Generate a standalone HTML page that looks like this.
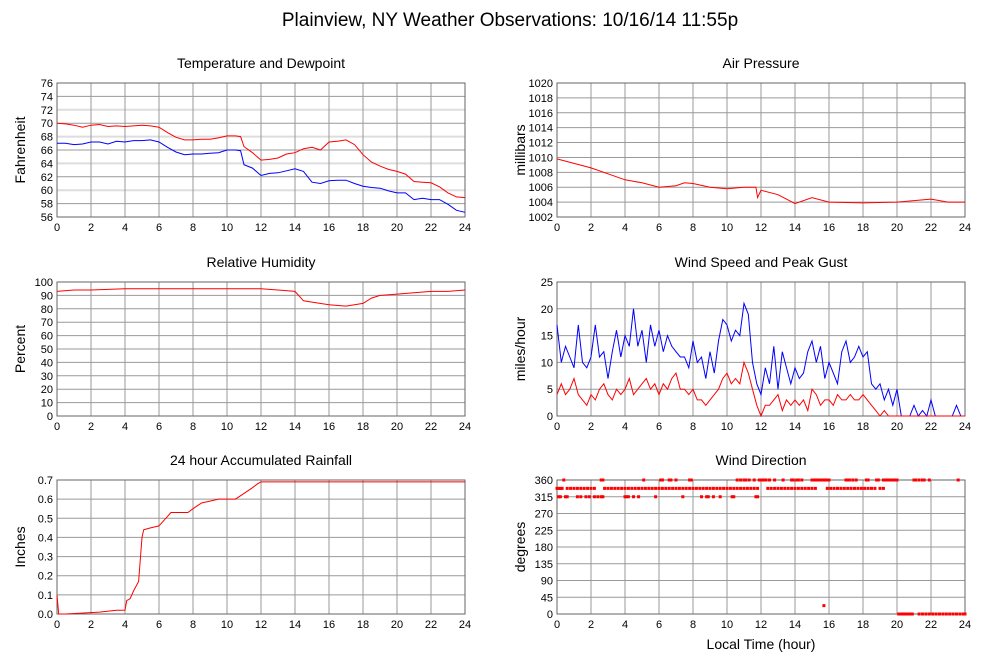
<!DOCTYPE html>
<html><head><meta charset="utf-8"><style>
body{margin:0;background:#fff;}
svg{display:block;font-family:"Liberation Sans",sans-serif;}
</style></head><body>
<svg id="chart" width="999" height="659" viewBox="0 0 999 659" xmlns="http://www.w3.org/2000/svg">
<text x="510" y="26" font-size="19" text-anchor="middle">Plainview, NY Weather Observations: 10/16/14 11:55p</text>
<text x="761" y="649" font-size="14" text-anchor="middle">Local Time (hour)</text>
</svg>
<script>
// ---- data ----
const tempHours=[0,0.5,1,1.5,2,2.5,3,3.5,4,4.5,5,5.5,6,6.5,7,7.5,8,8.5,9,9.5,10,10.5,10.8,11,11.5,12,12.5,13,13.5,14,14.5,15,15.5,16,16.5,17,17.5,18,18.5,19,19.5,20,20.5,21,21.5,22,22.5,23,23.5,24];
const tempValues=[70,69.9,69.7,69.4,69.7,69.8,69.5,69.6,69.5,69.6,69.7,69.6,69.4,68.6,67.9,67.5,67.5,67.6,67.6,67.8,68.1,68.1,68.0,66.5,65.6,64.5,64.6,64.8,65.4,65.6,66.2,66.4,66.0,67.2,67.3,67.5,66.8,65.3,64.2,63.6,63.1,62.8,62.4,61.3,61.2,61.1,60.5,59.6,59.0,58.9];
const dewValues=[67,67,66.8,66.9,67.2,67.2,66.9,67.3,67.2,67.4,67.4,67.5,67.2,66.4,65.7,65.3,65.4,65.4,65.5,65.6,66,66,65.9,63.8,63.3,62.2,62.5,62.6,62.9,63.2,62.8,61.2,61.0,61.4,61.5,61.5,61.0,60.6,60.4,60.3,59.9,59.6,59.6,58.6,58.8,58.6,58.6,57.9,57.0,56.7];
const presHours=[0,1,2,3,4,5,6,7,7.5,8,9,10,11,11.7,11.8,12,13,14,15,16,18,20,22,23,24];
const presValues=[1009.8,1009.2,1008.6,1007.8,1007.0,1006.6,1006.0,1006.2,1006.6,1006.5,1006.0,1005.8,1006.0,1006.0,1004.6,1005.6,1005.0,1003.8,1004.6,1004.0,1003.9,1004.0,1004.4,1004.0,1004.0];
const rhHours=[0,1,2,4,6,8,10,12,13,14,14.5,15,16,17,18,18.5,19,20,21,22,23,24];
const rhValues=[93,94,94,95,95,95,95,95,94,93,86,85,83,82,84,88,90,91,92,93,93,94];
const windHours=[0,0.25,0.5,0.75,1,1.25,1.5,1.75,2,2.25,2.5,2.75,3,3.25,3.5,3.75,4,4.25,4.5,4.75,5,5.25,5.5,5.75,6,6.25,6.5,6.75,7,7.25,7.5,7.75,8,8.25,8.5,8.75,9,9.25,9.5,9.75,10,10.25,10.5,10.75,11,11.25,11.5,11.75,12,12.25,12.5,12.75,13,13.25,13.5,13.75,14,14.25,14.5,14.75,15,15.25,15.5,15.75,16,16.25,16.5,16.75,17,17.25,17.5,17.75,18,18.25,18.5,18.75,19,19.25,19.5,19.75,20,20.25,20.5,20.75,21,21.25,21.5,21.75,22,22.25,22.5,22.75,23,23.25,23.5,23.75,24];
const gustValues=[17,10,13,11,9,17,10,9,11,17,11,12,7,12,16,11,15,13,20,13,16,10,17,13,16,12,15,13,12,11,11,9,14,10,11,7,12,8,14,18,17,14,16,15,21,19,10,6,4,9,6,13,5,12,9,6,9,7,8,12,14,10,13,7,10,8,6,12,14,10,11,13,11,12,6,5,6,3,5,2,5,0,0,0,2,0,1,0,3,0,0,0,0,0,2,0,0];
const speedValues=[4,6,4,5,7,4,3,2,4,3,5,6,4,3,5,4,5,7,4,5,6,7,5,6,4,6,5,7,8,5,5,4,5,3,3,2,3,4,5,7,8,6,7,6,10,8,5,2,0,2,2,3,4,1,3,2,3,2,3,1,5,4,2,3,3,2,4,3,3,4,3,3,4,3,2,1,0,1,0,0,0,0,0,0,0,0,0,0,0,0,0,0,0,0,0,0,0];
const rainHours=[0,0.1,0.5,2.5,3.5,4,4.1,4.3,4.5,4.8,5,5.1,5.5,6,6.5,6.7,7.7,8,8.5,9,9.5,10.5,11,11.5,11.8,12,24];
const rainValues=[0.1,0,0,0.01,0.02,0.02,0.07,0.08,0.12,0.17,0.4,0.44,0.45,0.46,0.51,0.53,0.53,0.55,0.58,0.59,0.6,0.6,0.63,0.66,0.68,0.69,0.69];
const dir360Times=[0.4,2.6,2.7,5.1,6.1,6.2,6.6,6.7,7.0,7.8,7.9,10.6,10.8,11.0,11.1,11.3,11.6,11.9,12.0,12.1,12.2,12.3,12.5,12.8,13.3,13.8,13.9,14.1,14.2,14.4,15.0,15.1,15.2,15.3,15.4,15.5,15.6,15.7,15.8,15.9,16.0,17.0,17.1,17.2,17.4,17.6,18.2,18.3,18.8,18.9,19.2,19.3,19.4,19.5,19.6,19.7,19.8,19.9,20.0,21.0,21.1,21.3,21.5,21.6,21.9,23.6];
const dir338Times=[0,0.1,0.2,0.3,0.6,0.8,1.0,1.2,1.4,1.6,1.8,2.0,2.2,2.8,3.0,3.2,3.4,3.6,3.8,4.0,4.2,4.4,4.6,4.8,5.0,5.2,5.4,5.6,5.8,6.0,6.2,6.4,6.6,6.8,7.0,7.2,7.4,7.6,7.8,8.0,8.2,8.4,8.6,8.8,9.0,9.2,9.4,9.6,9.8,10.0,10.2,10.4,10.6,10.8,11.0,11.2,11.4,11.6,11.8,12.4,12.6,12.8,13.0,13.2,13.4,13.6,13.8,14.0,14.2,14.4,14.6,14.8,15.0,15.2,15.9,16.1,16.3,16.5,16.7,16.9,17.1,17.3,17.5,17.7,17.9,18.1,18.3,18.5,18.7,19.0,19.2];
const dir315Times=[0.1,0.2,0.5,0.6,1.2,1.4,1.7,1.9,2.2,2.4,2.6,2.7,4.0,4.1,4.2,4.5,4.8,5.8,7.4,8.5,8.8,8.9,9.2,9.6,10.3,10.4,11.7,11.8];
const dir0Times=[20.1,20.2,20.3,20.4,20.5,20.6,20.7,20.8,20.9,21.3,21.5,21.7,21.9,22.1,22.3,22.5,22.7,22.9,23.1,23.3,23.5,23.7,23.9,24.0];
const dir22Times=[15.7];
const xTicks=[0,2,4,6,8,10,12,14,16,18,20,22,24];
const tempTicks=[56,58,60,62,64,66,68,70,72,74,76];
const presTicks=[1002,1004,1006,1008,1010,1012,1014,1016,1018,1020];
const rhTicks=[0,10,20,30,40,50,60,70,80,90,100];
const windTicks=[0,5,10,15,20,25];
const rainTicks=[0,0.1,0.2,0.3,0.4,0.5,0.6,0.7];
const rainTickLabels=["0.0","0.1","0.2","0.3","0.4","0.5","0.6","0.7"];
const dirTicks=[0,45,90,135,180,225,270,315,360];

const svg=document.getElementById('chart');
const NS='http://www.w3.org/2000/svg';
function mk(tag,attrs,parent){const e=document.createElementNS(NS,tag);for(const k in attrs)e.setAttribute(k,attrs[k]);(parent||svg).appendChild(e);return e;}

function panel(name,title,ylabel,x0,x1,y0,y1,ticks,labels,lightEvery){
  const g=mk('g',{});
  
  
  const min=ticks[0],max=ticks[ticks.length-1];
  const sx=h=>x0+(h/24)*(x1-x0);
  const sy=v=>y1-(v-min)/(max-min)*(y1-y0);
  mk('rect',{x:x0,y:y0,width:x1-x0,height:y1-y0,fill:'#fff'},g);
  ticks.forEach((t,i)=>{
    const y=sy(t);
    const light=lightEvery&&(i%2===lightEvery-1)&&i>0&&i<ticks.length-1;
    const l=mk('line',{x1:x0,x2:x1,y1:y,y2:y,stroke:light?'#ddd':'#999','stroke-width':light?2:1},g);
    
    
    const tx=mk('text',{x:x0-4,y:y+4,'font-size':11,'text-anchor':'end'},g);
    
    
    tx.textContent=labels?labels[i]:t;
  });
  xTicks.forEach(h=>{
    const x=sx(h);
    const l=mk('line',{x1:x,x2:x,y1:y0,y2:y1,stroke:'#999','stroke-width':1},g);
    
    
    const tx=mk('text',{x:x,y:y1+14,'font-size':11,'text-anchor':'middle'},g);
    
    
    tx.textContent=h;
  });
  const b=mk('rect',{x:x0,y:y0,width:x1-x0,height:y1-y0,fill:'none',stroke:'#666'},g);
  
  
  const t=mk('text',{x:(x0+x1)/2,y:y0-15,'font-size':14,'text-anchor':'middle'},g);
  
  
  t.textContent=title;
  const cy=(y0+y1)/2, lx=x0-32;
  const yl=mk('text',{x:0,y:0,'font-size':14,'text-anchor':'middle',transform:`translate(${lx},${cy}) rotate(-90)`},g);
  
  
  yl.textContent=ylabel;
  return {g,sx,sy};
}
function line(p,hours,vals,color,name){
  const d=hours.map((h,i)=>(i?'L':'M')+p.sx(h).toFixed(1)+','+p.sy(vals[i]).toFixed(1)).join('');
  const e=mk('path',{d:d,fill:'none',stroke:color,'stroke-width':1},p.g);
  
  
}
function dots(p,times,val,name){
  times.forEach(h=>{
    const e=mk('rect',{x:p.sx(h)-1.5,y:p.sy(val)-1.5,width:3,height:3,fill:'#f00'},p.g);
    
    
  });
}
const pT=panel('temperature','Temperature and Dewpoint','Fahrenheit',57,465,83,217,tempTicks,null,1);
line(pT,tempHours,tempValues,'#f00','temperature-line');
line(pT,tempHours,dewValues,'#00f','dewpoint-line');
const pP=panel('pressure','Air Pressure','millibars',557,965,83,217,presTicks,null,0);
line(pP,presHours,presValues,'#f00','pressure-line');
const pR=panel('humidity','Relative Humidity','Percent',57,465,282,416,rhTicks,null,0);
line(pR,rhHours,rhValues,'#f00','humidity-line');
const pW=panel('wind-speed','Wind Speed and Peak Gust','miles/hour',557,965,282,416,windTicks,null,0);
line(pW,windHours,gustValues,'#00f','gust-line');
line(pW,windHours,speedValues,'#f00','speed-line');
const pA=panel('rainfall','24 hour Accumulated Rainfall','Inches',57,465,480,614,rainTicks,rainTickLabels,0);
line(pA,rainHours,rainValues,'#f00','rainfall-line');
const pD=panel('wind-direction','Wind Direction','degrees',557,965,480,614,dirTicks,null,0);
dots(pD,dir360Times,360,'direction-point');
dots(pD,dir338Times,337.5,'direction-point');
dots(pD,dir315Times,315,'direction-point');
dots(pD,dir0Times,0,'direction-point');
dots(pD,dir22Times,22.5,'direction-point');
</script>
</body></html>
